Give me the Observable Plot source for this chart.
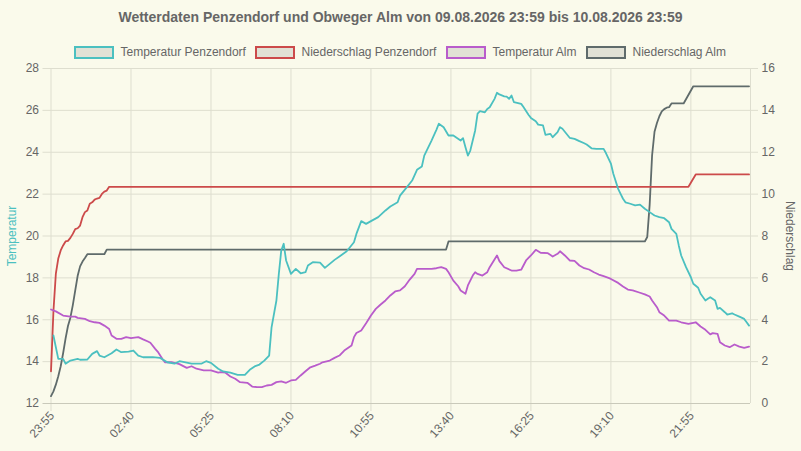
<!DOCTYPE html>
<html><head><meta charset="utf-8">
<script src="https://cdn.jsdelivr.net/npm/d3@7"></script>
<script src="https://cdn.jsdelivr.net/npm/@observablehq/plot@0.6"></script>
<style>
body{margin:0;background:#fafaeb;font-family:"Liberation Sans",Arial,sans-serif;}
#wrap{position:relative;width:801px;height:451px;overflow:hidden;background:#fafaeb;}
#title{position:absolute;left:0;top:8px;width:801px;text-align:center;font-weight:bold;font-size:14px;color:#666;line-height:18px;}
.lg{position:absolute;top:45.5px;height:13px;display:flex;align-items:center;font-size:12px;color:#666;white-space:nowrap;}
.box{box-sizing:border-box;width:40.5px;height:13px;border:2px solid;background:#e1e1d5;margin-right:6.5px;}
#chart{position:absolute;left:0;top:60px;}
</style></head>
<body><div id="wrap"><div id="title"></div><div id="legend"></div><div id="chart"></div></div>
<script>
const titleText = "Wetterdaten Penzendorf und Obweger Alm von 09.08.2026 23:59 bis 10.08.2026 23:59";
const seriesNames = ["Temperatur Penzendorf","Niederschlag Penzendorf","Temperatur Alm","Niederschlag Alm"];
const seriesColors = ["#4bc0c0","#cc4a4a","#b95ccb","#5f6b6b"];
const legendLeft = [73.5, 254.5, 445.5, 585.5];

const xTickLabels = ["23:55","02:40","05:25","08:10","10:55","13:40","16:25","19:10","21:55"];
const yTicksTemp = [12,14,16,18,20,22,24,26,28];
const yTicksRain = [0,2,4,6,8,10,12,14,16];

const tempPenzTime = ["00:00","00:10","00:20","00:25","00:35","00:50","00:55","01:10","01:20","01:30","01:35","01:45","02:00","02:10","02:20","02:35","02:45","02:55","03:05","03:25","03:40","03:55","04:10","04:20","04:45","05:05","05:15","05:25","05:40","05:50","06:05","06:20","06:35","06:45","06:55","07:05","07:15","07:25","07:30","07:40","07:45","07:50","07:55","08:00","08:10","08:20","08:30","08:40","08:45","08:55","09:10","09:20","09:30","09:40","09:50","10:05","10:20","10:25","10:35","10:45","10:55","11:10","11:25","11:35","11:50","11:55","12:10","12:20","12:30","12:40","12:45","13:00","13:10","13:15","13:25","13:35","13:45","14:00","14:05","14:10","14:15","14:20","14:30","14:35","14:40","14:50","14:55","15:00","15:10","15:15","15:20","15:30","15:35","15:40","15:45","15:50","16:05","16:10","16:20","16:25","16:35","16:40","16:50","16:55","17:05","17:10","17:20","17:25","17:30","17:45","17:55","18:05","18:15","18:20","18:30","18:40","18:55","19:00","19:10","19:15","19:25","19:30","19:35","19:40","19:50","20:00","20:10","20:20","20:30","20:40","20:50","21:00","21:10","21:15","21:25","21:30","21:35","21:45","21:55","22:00","22:10","22:15","22:25","22:30","22:35","22:45","22:50","22:55","23:05","23:10","23:20","23:25","23:35","23:45","23:50","23:55"];
const tempPenz = [15.25,14.13,14.13,13.9,14.05,14.13,14.09,14.1,14.37,14.5,14.29,14.21,14.4,14.58,14.45,14.48,14.53,14.29,14.21,14.21,14.18,13.97,13.9,14.02,13.9,13.9,14.02,13.94,13.66,13.53,13.47,13.37,13.37,13.61,13.77,13.86,14.05,14.29,15.64,16.92,18.19,19.31,19.63,18.83,18.19,18.43,18.22,18.27,18.59,18.75,18.73,18.48,18.67,18.86,19.02,19.27,19.7,20.1,20.71,20.58,20.71,20.9,21.22,21.41,21.61,21.93,22.36,22.65,23.16,23.32,23.84,24.56,25.07,25.36,25.19,24.8,24.8,24.56,24.67,24.24,23.84,24.08,25.04,25.84,25.96,25.91,26.07,26.15,26.55,26.84,26.76,26.67,26.66,26.55,26.71,26.39,26.31,26.15,25.79,25.64,25.48,25.32,25.28,24.83,24.88,24.72,24.96,25.2,25.12,24.69,24.64,24.53,24.43,24.37,24.19,24.16,24.16,23.95,23.46,22.97,22.25,22.01,21.78,21.61,21.54,21.46,21.5,21.3,21.14,20.98,20.9,20.85,20.66,20.34,20.1,19.55,19.07,18.51,18.03,17.72,17.53,17.24,16.92,17.0,17.08,16.92,16.52,16.57,16.36,16.25,16.31,16.25,16.15,16.04,15.88,15.72];

const rainPenzTime = ["23:55","00:00","00:05","00:10","00:15","00:20","00:25","00:30","00:35","00:40","00:45","00:50","00:55","01:00","01:05","01:10","01:15","01:20","01:25","01:30","01:35","01:40","01:45","01:50","01:55","21:50","22:05","23:55"];
const rainPenz = [1.54,4.4,6.2,6.92,7.31,7.55,7.74,7.77,7.91,8.1,8.33,8.37,8.5,8.9,9.14,9.22,9.54,9.61,9.74,9.79,9.82,10.01,10.12,10.17,10.35,10.35,10.94,10.94];

const tempAlmTime = ["23:55","00:05","00:20","00:35","00:45","00:50","01:05","01:15","01:25","01:35","01:45","01:55","02:00","02:10","02:20","02:30","02:40","02:55","03:05","03:15","03:20","03:30","03:35","03:45","03:50","04:05","04:20","04:35","04:45","04:55","05:10","05:25","05:40","05:45","05:55","06:05","06:15","06:25","06:40","06:50","07:00","07:10","07:20","07:30","07:40","07:50","08:00","08:10","08:20","08:30","08:40","08:50","09:00","09:10","09:15","09:30","09:40","09:50","10:00","10:15","10:20","10:25","10:35","10:45","10:55","11:05","11:15","11:25","11:35","11:45","11:55","12:05","12:15","12:25","12:30","12:45","13:00","13:10","13:20","13:30","13:35","13:45","13:55","14:00","14:10","14:15","14:25","14:30","14:35","14:45","14:55","15:00","15:15","15:20","15:30","15:45","15:55","16:05","16:15","16:25","16:35","16:45","17:00","17:10","17:20","17:25","17:35","17:45","17:55","18:05","18:15","18:25","18:35","18:45","18:55","19:05","19:10","19:25","19:35","19:45","19:55","20:10","20:20","20:30","20:35","20:45","20:50","21:00","21:10","21:25","21:35","21:50","22:05","22:15","22:25","22:35","22:40","22:50","22:55","23:05","23:15","23:25","23:35","23:45","23:55"];
const tempAlm = [16.49,16.4,16.2,16.15,16.15,16.09,16.04,15.93,15.88,15.85,15.72,15.56,15.25,15.09,15.09,15.17,15.12,15.17,15.06,14.96,14.9,14.61,14.48,14.13,13.97,13.97,13.88,13.7,13.78,13.66,13.58,13.58,13.47,13.5,13.47,13.29,13.18,13.02,12.99,12.81,12.78,12.78,12.86,12.89,13.02,13.06,12.99,13.1,13.13,13.34,13.54,13.73,13.81,13.9,13.97,14.05,14.18,14.29,14.53,14.77,15.17,15.37,15.49,15.83,16.2,16.52,16.73,16.92,17.16,17.35,17.4,17.6,17.92,18.19,18.43,18.43,18.43,18.46,18.51,18.43,18.27,17.87,17.6,17.4,17.24,17.64,18.11,18.27,18.19,18.11,18.27,18.51,19.07,18.8,18.51,18.35,18.35,18.39,18.83,19.07,19.34,19.2,19.18,19.02,19.15,19.27,19.07,18.83,18.81,18.59,18.46,18.4,18.27,18.16,18.08,18.0,17.95,17.76,17.59,17.44,17.4,17.29,17.21,17.11,16.92,16.6,16.36,16.2,15.96,15.96,15.88,15.8,15.88,15.68,15.52,15.3,15.36,15.33,14.93,14.77,14.69,14.82,14.72,14.66,14.72];

const rainAlmTime = ["23:55","00:00","00:05","00:10","00:15","00:20","00:25","00:30","00:35","00:40","00:45","00:50","00:55","01:00","01:05","01:10","01:45","01:50","13:30","13:35","20:20","20:25","20:30","20:35","20:40","20:45","20:50","20:55","21:00","21:05","21:10","21:15","21:40","22:00","23:55"];
const rainAlm = [0.35,0.58,0.9,1.3,1.78,2.4,3.1,3.7,4.1,4.7,5.4,6.1,6.55,6.78,6.95,7.13,7.13,7.35,7.35,7.74,7.74,7.95,9.5,11.85,12.98,13.4,13.72,13.95,14.06,14.13,14.15,14.33,14.33,15.15,15.15];

// parse clock strings into dates (rolling over midnight)
function toDates(times) {
  let day = 9, prev = 1435;
  return times.map(t => {
    const [h, m] = t.split(":").map(Number);
    const mm = h * 60 + m;
    if (mm < prev) day++;
    prev = mm;
    return new Date(2026, 7, day, h, m);
  });
}
function series(times, values, offset) {
  const d = toDates(times);
  return values.map((v, i) => ({date: d[i], v: v + offset}));
}

document.getElementById("title").textContent = titleText;
const legend = document.getElementById("legend");
seriesNames.forEach((n, i) => {
  const el = document.createElement("div");
  el.className = "lg";
  el.style.left = legendLeft[i] + "px";
  const b = document.createElement("div");
  b.className = "box";
  b.style.borderColor = seriesColors[i];
  el.appendChild(b);
  el.appendChild(document.createTextNode(n));
  legend.appendChild(el);
});

const xTicks = toDates(xTickLabels);
const start = xTicks[0];
const xDomain = [start, new Date(+start + 1443 * 60000)];
const grid = "#dedecf";
const fmt = d3.timeFormat("%H:%M");

const chart = Plot.plot({
  width: 801, height: 391,
  marginLeft: 50.5, marginRight: 51, marginTop: 8, marginBottom: 48,
  style: {background: "transparent", fontFamily: "'Liberation Sans', Arial, sans-serif", fontSize: "12px", color: "#666", overflow: "visible"},
  x: {type: "time", domain: xDomain},
  y: {domain: [12, 28]},
  marks: [
    Plot.ruleY(yTicksTemp.slice(1), {stroke: grid, insetLeft: -8, insetRight: -8}),
    Plot.ruleX(xTicks, {stroke: grid, insetBottom: -8}),
    Plot.ruleX([xDomain[1]], {stroke: grid}),
    Plot.ruleY([12], {stroke: "#c9c9ba", insetLeft: -8}),
    Plot.axisY({anchor: "left", ticks: yTicksTemp, tickSize: 0, tickPadding: 12, label: null}),
    Plot.axisY({anchor: "right", ticks: yTicksTemp, tickFormat: (d, i) => yTicksRain[i], tickSize: 0, tickPadding: 11, label: null}),
    Plot.axisX({ticks: xTicks, tickFormat: fmt, tickRotate: -48, tickSize: 0, tickPadding: 10, dx: 1, label: null}),
    Plot.text(["Temperatur"], {frameAnchor: "left", dx: -39, rotate: -90, textAnchor: "middle", fill: seriesColors[0], fontSize: 12}),
    Plot.text(["Niederschlag"], {frameAnchor: "right", dx: 39, rotate: 90, textAnchor: "middle", fill: "#666", fontSize: 12}),
    Plot.line(series(rainAlmTime, rainAlm, 12), {x: "date", y: "v", stroke: seriesColors[3], strokeWidth: 1.8}),
    Plot.line(series(rainPenzTime, rainPenz, 12), {x: "date", y: "v", stroke: seriesColors[1], strokeWidth: 1.8}),
    Plot.line(series(tempAlmTime, tempAlm, 0), {x: "date", y: "v", stroke: seriesColors[2], strokeWidth: 1.8}),
    Plot.line(series(tempPenzTime, tempPenz, 0), {x: "date", y: "v", stroke: seriesColors[0], strokeWidth: 1.8})
  ]
});
document.getElementById("chart").appendChild(chart);
</script>
</body></html>
